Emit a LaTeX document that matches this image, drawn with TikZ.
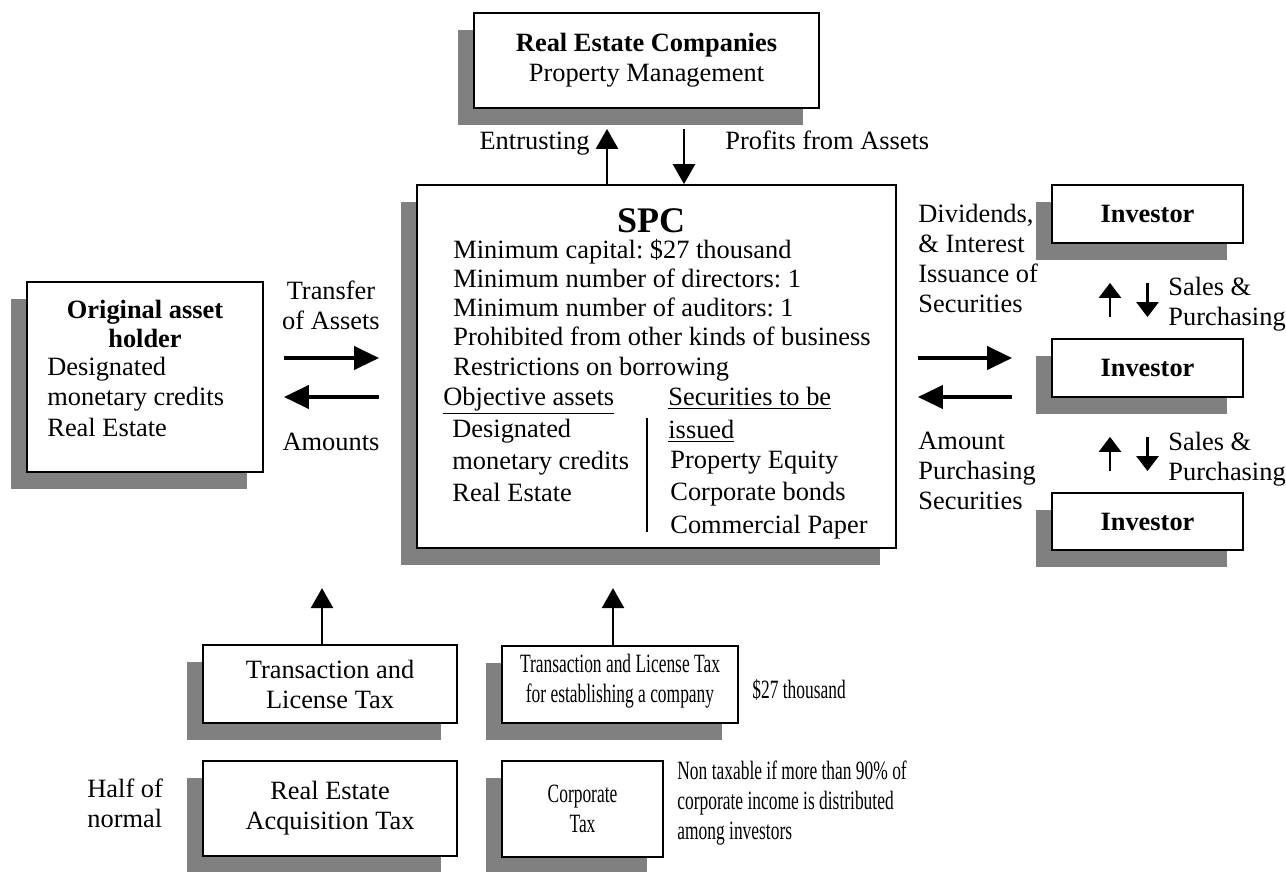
\documentclass[tikz,border=0pt]{standalone}
\usepackage{fontspec}
\setmainfont{Liberation Serif}
\usepackage{graphicx}
\usetikzlibrary{arrows.meta,calc,shadows}
\newcommand{\narrowtxt}[1]{\scalebox{0.66}[1]{#1}}
\frenchspacing

\begin{document}
\begin{tikzpicture}[x=0.5pt,y=-0.5pt,
  every node/.style={font=\fontsize{13.2}{15}\selectfont},
  box/.style={draw, line width=0.9pt, fill=white, align=center,
    drop shadow={shadow xshift=-8pt, shadow yshift=-8.5pt, fill=black!50, opacity=1}},
  txt/.style={inner sep=0pt},
  bold/.style={inner sep=0pt, font=\bfseries\fontsize{13.2}{15}\selectfont},
  flow/.style={line width=2pt, -{Triangle[length=12.5pt,width=11.5pt]}},
  vflow/.style={line width=1.3pt, -{Triangle[length=10pt,width=11pt]}},
  sflow/.style={line width=1.3pt, -{Triangle[length=7.5pt,width=11pt]}}]
\useasboundingbox (0,0) rectangle (1286,872);

% boxes
\node[box, minimum width=172.5pt, minimum height=47.5pt] (rec) at (646.5,60.5)
  {\textbf{Real Estate Companies}\\Property Management};
\node[box, minimum width=239.5pt, minimum height=181.5pt] (spc) at (656.5,366.5) {};
\node[box, minimum width=118pt, minimum height=95pt] (oah) at (145,377) {};
\node[box, minimum width=95.5pt, minimum height=29pt] (inv1) at (1147.5,214) {\textbf{Investor}};
\node[box, minimum width=95.5pt, minimum height=29pt] (inv2) at (1147.5,368) {\textbf{Investor}};
\node[box, minimum width=95.5pt, minimum height=28.5pt] (inv3) at (1147.5,521.5) {\textbf{Investor}};
\node[box, minimum width=127pt, minimum height=39pt] (tlt) at (330,684)
  {Transaction and\\License Tax};
\node[box, minimum width=127pt, minimum height=47.5pt] (reat) at (330,808.5)
  {Real Estate\\Acquisition Tax};
\node[box, minimum width=118pt, minimum height=38.5pt, text depth=6pt] (tltc) at (620,684.5)
  {\narrowtxt{Transaction and License Tax}\\\narrowtxt{for establishing a company}};
\node[box, minimum width=80.5pt, minimum height=48pt] (ctax) at (582.5,809)
  {\narrowtxt{Corporate}\\\narrowtxt{Tax}};

% SPC contents
\node[inner sep=0pt, anchor=base, font=\bfseries\fontsize{18}{20}\selectfont] (spctitle) at (651,233) {SPC};
\foreach \t [count=\i from 0] in {Minimum capital: \$27 thousand, Minimum number of directors: 1,
    Minimum number of auditors: 1, Prohibited from other kinds of business, Restrictions on borrowing}
  \node[txt, anchor=base west] (spcl\i) at (453,258+29.3*\i) {\t};
\node[txt, anchor=base west] (objhead) at (443,405) {\underline{Objective assets}};
\foreach \t [count=\i from 0] in {Designated, monetary credits, Real Estate}
  \node[txt, anchor=base west] (obj\i) at (452,437+32*\i) {\t};
\node[txt, anchor=base west] (sechead) at (668,405) {\underline{Securities to be}};
\node[txt, anchor=base west] (sechead2) at (668,438) {\underline{issued}};
\foreach \t [count=\i from 0] in {Property Equity, Corporate bonds, Commercial Paper}
  \node[txt, anchor=base west] (sec\i) at (670,468+32.5*\i) {\t};
\draw[line width=0.8pt] (647,418) -- (647,532);

% original asset holder contents
\node[bold, anchor=base] (oaht1) at (145,318) {Original asset};
\node[bold, anchor=base] (oaht2) at (145,347) {holder};
\foreach \t [count=\i from 0] in {Designated, monetary credits, Real Estate}
  \node[txt, anchor=base west] (oahl\i) at (47,375+30.5*\i) {\t};

% labels
\node[txt, anchor=base east] (entrust) at (590,150) {Entrusting};
\node[txt, anchor=base west] (profits) at (725,150) {Profits from Assets};
\node[txt, align=center, anchor=north] (transfer) at (331,281) {Transfer\\of Assets};
\node[txt, anchor=base] (amounts) at (331,450) {Amounts};
\node[txt, align=left, anchor=north west] (divid) at (918,204)
  {Dividends,\\\& Interest\\Issuance of\\Securities};
\node[txt, align=left, anchor=north west] (amount) at (918,432)
  {Amount\\Purchasing\\Securities};
\node[txt, align=left, anchor=north west] (sales1) at (1168,277) {Sales \&\\Purchasing};
\node[txt, align=left, anchor=north west] (sales2) at (1168,432) {Sales \&\\Purchasing};
\node[txt, anchor=base west] (estab) at (752,698) {\narrowtxt{\$27 thousand}};
\node[txt, align=left, anchor=north west] (half) at (87,779) {Half of\\normal};
\node[txt, align=left, anchor=north west] (nontax) at (677,761)
  {\narrowtxt{Non taxable if more than 90\% of}\\\narrowtxt{corporate income is distributed}\\\narrowtxt{among investors}};

% arrows
\draw[vflow] ($(spc.north)+(-49.5,0)$) -- ($(rec.south)+(-39.5,20)$);
\draw[vflow] ($(rec.south)+(37.5,20)$) -- ($(spc.north)+(27.5,0)$);
\draw[flow] ($(oah.east)+(20,-19)$) -- ($(spc.west)+(-37,-8.5)$);
\draw[flow] ($(spc.west)+(-37,30.5)$) -- ($(oah.east)+(20,20)$);
\draw[flow] ($(spc.east)+(21,-8.5)$) -- ($(inv2.west)+(-39,-10)$);
\draw[flow] ($(inv2.west)+(-39,29)$) -- ($(spc.east)+(21,30.5)$);
\draw[sflow] ($(inv2.north)+(-37.5,-21)$) -- ($(inv1.south)+(-37.5,39)$);
\draw[sflow] ($(inv1.south)+(0,39)$) -- ($(inv2.north)+(0,-21)$);
\draw[sflow] ($(inv3.north)+(-37.5,-21)$) -- ($(inv2.south)+(-37.5,39)$);
\draw[sflow] ($(inv2.south)+(0,39)$) -- ($(inv3.north)+(0,-21)$);
\draw[vflow] ($(tlt.north)+(-8,0)$) -- ++(0,-56);
\draw[vflow] ($(tltc.north)+(-7,0)$) -- ++(0,-57);
\end{tikzpicture}
\end{document}
